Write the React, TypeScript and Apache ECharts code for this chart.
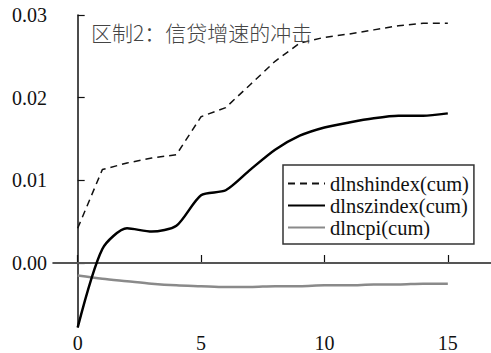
import React, { useEffect, useRef } from "react";
import * as echarts from "echarts";

const steps = [0, 1, 2, 3, 4, 5, 6, 7, 8, 9, 10, 11, 12, 13, 14, 15];
const shIndex = [0.0042, 0.0113, 0.0121, 0.0127, 0.0131, 0.0177, 0.0188, 0.0216, 0.0244, 0.0266, 0.0273, 0.0277, 0.0282, 0.0287, 0.029, 0.029];
const szIndex = [-0.0078, 0.0017, 0.0042, 0.0038, 0.0045, 0.0082, 0.0088, 0.0113, 0.0137, 0.0154, 0.0164, 0.017, 0.0175, 0.0178, 0.0178, 0.0181];
const cpi = [-0.0015, -0.0019, -0.0022, -0.0025, -0.0027, -0.0028, -0.0029, -0.0029, -0.0028, -0.0028, -0.0027, -0.0027, -0.0026, -0.0026, -0.0025, -0.0025];
const xTicks = [0, 5, 10, 15];
const yTicks = [0, 0.01, 0.02, 0.03];
const title = "区制2：信贷增速的冲击";

const serif = "'Liberation Serif', 'DejaVu Serif', serif";

export default function App() {
  const ref = useRef<HTMLDivElement>(null);
  useEffect(() => {
    if (!ref.current) return;
    const chart = echarts.init(ref.current, undefined, { renderer: "svg" });
    const pair = (arr: number[]) => steps.map((s, i) => [s, arr[i]]);
    chart.setOption({
      animation: false,
      backgroundColor: "#fff",
      title: {
        text: title,
        left: 86,
        top: 16,
        textStyle: {
          fontFamily: "'Noto Sans CJK SC', sans-serif",
          fontSize: 21,
          fontWeight: 300,
          color: "#444",
        },
      },
      legend: {
        orient: "vertical",
        left: 283,
        top: 165,
        itemWidth: 37,
        itemHeight: 14,
        itemGap: 1,
        padding: [8, 5, 6, 4],
        borderColor: "#333",
        borderWidth: 1.5,
        itemStyle: { opacity: 0 },
        textStyle: { fontFamily: serif, fontSize: 20.5, color: "#111" },
        data: ["dlnshindex(cum)", "dlnszindex(cum)", "dlncpi(cum)"],
      },
      grid: { left: 53, right: 0, top: 15, bottom: 26, containLabel: false },
      xAxis: {
        type: "value",
        min: -1,
        max: 16.75,
        axisLine: { show: true, lineStyle: { color: "#111", width: 1.5 } },
        axisTick: { show: true, inside: true, length: 8, customValues: xTicks, lineStyle: { color: "#111", width: 1.2 } },
        axisLabel: {
          customValues: xTicks,
          fontFamily: serif,
          fontSize: 20,
          color: "#111",
          margin: 6,
        },
        splitLine: { show: false },
      },
      yAxis: {
        type: "value",
        min: -0.00774,
        max: 0.03,
        axisLine: { show: true, lineStyle: { color: "#111", width: 1.5 } },
        axisTick: { show: true, inside: true, length: 7, customValues: yTicks, lineStyle: { color: "#111", width: 1.2 } },
        axisLabel: {
          customValues: yTicks,
          fontFamily: serif,
          fontSize: 20,
          color: "#111",
          margin: 6,
          formatter: (v: number) => v.toFixed(2),
        },
        splitLine: { show: false },
      },
      series: [
        {
          name: "dlnshindex(cum)",
          type: "line",
          data: pair(shIndex),
          symbol: "none",
          lineStyle: { color: "#111", width: 1.5, type: [7, 5] },
          itemStyle: { color: "#111" },
          z: 3,
        },
        {
          name: "dlnszindex(cum)",
          type: "line",
          data: pair(szIndex),
          symbol: "none",
          smooth: 0.25,
          lineStyle: { color: "#000", width: 2.5 },
          itemStyle: { color: "#000" },
          z: 4,
          markLine: {
            silent: true,
            symbol: "none",
            label: { show: false },
            lineStyle: { color: "#555", width: 2, type: "solid" },
            data: [{ yAxis: 0 }],
            z: 1,
          },
        },
        {
          name: "dlncpi(cum)",
          type: "line",
          data: pair(cpi),
          symbol: "none",
          smooth: 0.3,
          lineStyle: { color: "#8a8a8a", width: 2.5 },
          itemStyle: { color: "#8a8a8a" },
          z: 2,
        },
      ],
    });
    return () => chart.dispose();
  }, []);
  return <div ref={ref} style={{ width: 491, height: 353, position: "absolute", left: 0, top: 0 }} />;
}
